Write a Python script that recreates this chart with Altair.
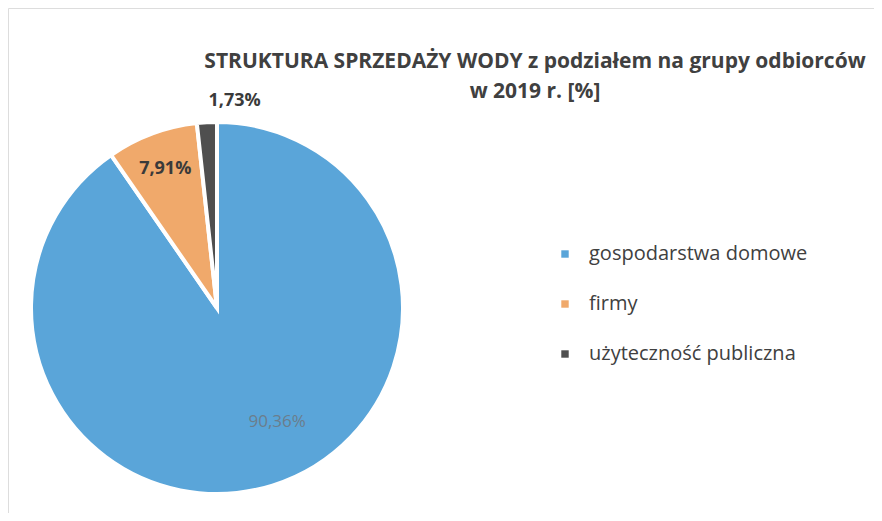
import altair as alt
import pandas as pd

categories = ["gospodarstwa domowe", "firmy", "użyteczność publiczna"]
values = [90.36, 7.91, 1.73]
order = [1, 2, 3]
colors = ["#5aa5d9", "#f0a96b", "#4f4f4f"]
title_lines = ["STRUKTURA SPRZEDAŻY WODY z podziałem na grupy odbiorców", "w 2019 r. [%]"]

df = pd.DataFrame({"cat": categories, "value": values, "order": order})

W, H = 866, 505
CX, CY = 209, 300
R = 186
FONT = "Open Sans"

pie = alt.Chart(df).mark_arc(outerRadius=R, stroke="white", strokeWidth=4).encode(
    theta=alt.Theta("value:Q", stack=True),
    order=alt.Order("order:Q"),
    color=alt.Color(
        "cat:N",
        scale=alt.Scale(domain=categories, range=colors),
        sort=categories,
        legend=alt.Legend(
            title=None, orient="none", legendX=547, legendY=236,
            symbolType="square", symbolSize=55, symbolStrokeWidth=0,
            labelFont=FONT, labelFontSize=20, labelColor="#404040",
            rowPadding=30, labelOffset=14, labelLimit=400,
        ),
    ),
    x=alt.value(CX), y=alt.value(CY),
)

base = (
    alt.Chart(df)
    .transform_window(cum="sum(value)", sort=[alt.SortField("order")], frame=[None, 0])
    .transform_joinaggregate(total="sum(value)")
    .transform_calculate(
        ang="2*PI*(datum.cum - datum.value/2)/datum.total",
        label="replace(format(datum.value, '.2f'), '.', ',') + '%'",
    )
)

def label_layer(cat, radius, color, weight, dx=0, dy=0, size=18):
    return base.transform_filter(alt.datum.cat == cat).mark_text(
        radius=radius, dx=dx, dy=dy, font=FONT, fontSize=size, fontWeight=weight, color=color
    ).encode(
        theta=alt.Theta("ang:Q", scale=None),
        text="label:N",
        x=alt.value(CX), y=alt.value(CY),
    )

lab1 = label_layer(categories[0], 128, "#6b7d8c", "normal", dx=22, dy=-8, size=17)
lab2 = label_layer(categories[1], 148, "#3a3a3a", "bold")
lab3 = label_layer(categories[2], 209, "#3a3a3a", "bold", dx=29, dy=2)

title_df = pd.DataFrame({"t": title_lines, "line": [0, 1]})
title = alt.Chart(title_df).mark_text(
    font=FONT, fontSize=21, fontWeight="bold", color="#404040", align="center", baseline="middle"
).encode(
    text="t:N",
    x=alt.value(527),
    y=alt.Y("line:Q", scale=alt.Scale(domain=[0, 1], range=[54, 84]), axis=None),
)

chart = alt.layer(pie, lab1, lab2, lab3, title).properties(
    width=W, height=H, autosize=alt.AutoSizeParams(type="none"), padding=0
).configure_view(stroke=None).configure(background="white")

chart.save("out.html", embed_options={"renderer": "svg", "actions": False})
